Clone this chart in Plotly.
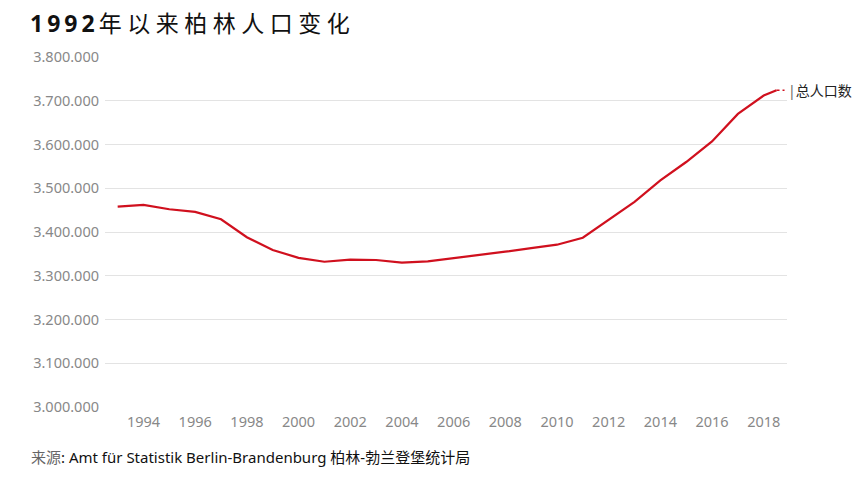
import plotly.graph_objects as go

# Stichtag (reference date) of each value
dates = [
    "1992-12-31", "1993-12-31", "1994-12-31", "1995-12-31", "1996-12-31",
    "1997-12-31", "1998-12-31", "1999-12-31", "2000-12-31", "2001-12-31",
    "2002-12-31", "2003-12-31", "2004-12-31", "2005-12-31", "2006-12-31",
    "2007-12-31", "2008-12-31", "2009-12-31", "2010-12-31", "2011-12-31",
    "2012-12-31", "2013-12-31", "2014-12-31", "2015-12-31", "2016-12-31",
    "2017-12-31", "2018-06-30",
]
population = [
    3458000, 3462000, 3452000, 3446000, 3429000,
    3388000, 3359000, 3341000, 3332000, 3337000,
    3336000, 3330000, 3333000, 3340000, 3348000,
    3355000, 3363000, 3371000, 3387000, 3428000,
    3469000, 3518000, 3560000, 3607000, 3670000,
    3712000, 3724000,
]
series_name = "总人口数"
y_ticks = [3000000, 3100000, 3200000, 3300000, 3400000, 3500000, 3600000, 3700000, 3800000]
title_bold = "1992"
title_rest = "年以来柏林人口变化"
source_label = "来源"
source_text = ": Amt für Statistik Berlin-Brandenburg 柏林-勃兰登堡统计局"

# page has an 8px body margin; lay out in page coordinates and compensate
OFF = 8
PAGE_W, PAGE_H = 864, 485
W, H = PAGE_W - 2 * OFF, PAGE_H - 2 * OFF
PLOT_L, PLOT_R, PLOT_T, PLOT_B = 105, 787, 57, 407   # page pixels
ML = PLOT_L - OFF
MT = PLOT_T - OFF
MR = W - (PLOT_R - OFF)
MB = H - (PLOT_B - OFF)
FONT = "Noto Sans, Noto Sans CJK SC, sans-serif"
RED = "#d0101e"

fig = go.Figure()
fig.add_trace(go.Scatter(
    x=dates, y=population, mode="lines", name=series_name,
    line=dict(color=RED, width=2.2), hoverinfo="x+y",
))

# dotted tail and end label
fig.add_shape(type="line", xref="x", yref="y", xsizemode="pixel",
              xanchor=dates[-1], x0=0, x1=8, y0=population[-1], y1=population[-1],
              line=dict(color=RED, width=1.5, dash="dot"))
fig.add_annotation(x=dates[-1], y=population[-1], xref="x", yref="y",
                   text="<span style='color:#666'>|</span>" + series_name,
                   showarrow=False, xanchor="left", yanchor="middle", xshift=9,
                   font=dict(family=FONT, size=14, color="#222"))

plot_w = PLOT_R - PLOT_L
plot_h = PLOT_B - PLOT_T
fig.add_annotation(x=(29 - PLOT_L) / plot_w, y=-(457 - PLOT_B) / plot_h,
                   xref="paper", yref="paper", xanchor="left", yanchor="middle",
                   showarrow=False,
                   text="<span style='color:#666'>" + source_label + "</span>" + source_text,
                   font=dict(family=FONT, size=15, color="#111"))

title_html = ("<span style='letter-spacing:4px'><b>" + title_bold + "</b>"
              + "<span style='letter-spacing:5.5px'>" + title_rest + "</span></span>")

fig.update_layout(
    width=W, height=H,
    margin=dict(l=ML, r=MR, t=MT, b=MB),
    paper_bgcolor="white", plot_bgcolor="white",
    separators=",.",
    showlegend=False,
    title=dict(text=title_html,
               xref="container", yref="container",
               x=(30 - OFF) / W, xanchor="left", y=1 - (23.5 - OFF) / H, yanchor="middle",
               font=dict(family=FONT, size=23, color="#111")),
    xaxis=dict(type="date", range=["1992-07-05", "2018-11-25"],
               tick0="1994-01-01", dtick="M24", tickformat="%Y",
               showgrid=False, zeroline=False, showline=False, ticks="",
               ticklabelstandoff=4,
               tickfont=dict(family=FONT, size=14.5, color="#888")),
    yaxis=dict(range=[y_ticks[0], y_ticks[-1]], tickvals=y_ticks, tickformat=",d",
               showgrid=True, gridcolor="#e3e3e3", gridwidth=1,
               zeroline=False, showline=False, ticks="", ticklabelstandoff=5,
               tickfont=dict(family=FONT, size=14.5, color="#888")),
)

fig.write_html("out.html")
